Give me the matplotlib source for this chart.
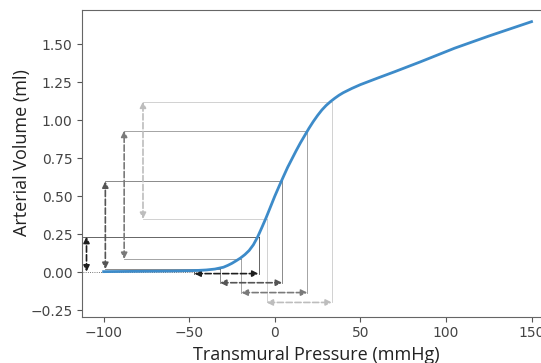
import matplotlib
matplotlib.use("Agg")
import matplotlib.pyplot as plt

# curve (pressure in mmHg, volume in ml)
pressure = [-100, -80, -60, -50, -45, -40, -35, -30, -27.5, -25, -22.5, -20, -17.5,
            -15, -12.5, -10, -7.5, -5, -2.5, 0, 2.5, 5, 7.5, 10, 12.5, 15, 17.5,
            20, 22.5, 25, 27.5, 30, 32.5, 35, 37.5, 40, 45, 50, 60, 70, 85, 105,
            125, 150]
volume = [0.003, 0.005, 0.007, 0.009, 0.011, 0.014, 0.020, 0.032, 0.044, 0.058,
          0.075, 0.093, 0.115, 0.142, 0.180, 0.232, 0.295, 0.360, 0.430, 0.500,
          0.565, 0.628, 0.690, 0.745, 0.800, 0.852, 0.900, 0.948, 0.992, 1.032,
          1.068, 1.098, 1.123, 1.145, 1.165, 1.182, 1.210, 1.235, 1.278, 1.320,
          1.385, 1.475, 1.555, 1.650]

# four pulse examples: low/high pressure, low/high volume
p_low = [-47, -32, -19.5, -4.8]
p_high = [-9.5, 4.3, 19, 33.4]
v_low = [0.003, 0.02, 0.086, 0.35]
v_high = [0.233, 0.598, 0.932, 1.124]
vol_arrow_x = [-110, -99, -88, -77]
pres_arrow_y = [-0.01, -0.07, -0.135, -0.20]
line_start = [-112, -99, -88, -77]
colores = ['#1e1e1e', '#555555', '#7a7a7a', '#bdbdbd']

fig = plt.figure(figsize=(5.41, 3.63), dpi=100)
ax = fig.add_axes([0.152, 0.1275, 0.870, 0.845])

for i in range(4):
    c = colores[i]
    # guide lines from the volume arrow to the curve and down to the pressure arrow
    ax.plot([line_start[i], p_high[i]], [v_high[i], v_high[i]], color=c, lw=0.6, alpha=0.8)
    ax.plot([line_start[i], p_low[i]], [v_low[i], v_low[i]], color=c, lw=0.6, alpha=0.8,
            ls=':' if i == 0 else '-')
    ax.plot([p_high[i], p_high[i]], [v_high[i], pres_arrow_y[i]], color=c, lw=0.6, alpha=0.8)
    ax.plot([p_low[i], p_low[i]], [v_low[i], pres_arrow_y[i]], color=c, lw=0.6, alpha=0.8)
    # volume arrow
    ax.annotate('', xy=(vol_arrow_x[i], v_high[i]), xytext=(vol_arrow_x[i], v_low[i]),
                arrowprops=dict(arrowstyle='<|-|>', color=c, lw=1.2, ls='--',
                                mutation_scale=9, shrinkA=0, shrinkB=0))
    # pressure arrow
    ax.annotate('', xy=(p_high[i], pres_arrow_y[i]), xytext=(p_low[i], pres_arrow_y[i]),
                arrowprops=dict(arrowstyle='<|-|>', color=c, lw=1.2, ls='--',
                                mutation_scale=9, shrinkA=0, shrinkB=0))

ax.plot(pressure, volume, color='#3d8bc9', lw=2, zorder=5)

ax.set_xlim(-112.5, 162.5)
ax.set_ylim(-0.294, 1.727)
ax.set_xticks([-100, -50, 0, 50, 100, 150])
ax.set_yticks([-0.25, 0, 0.25, 0.5, 0.75, 1.0, 1.25, 1.5])
ax.tick_params(colors='#555555', labelcolor='#444444', labelsize=10)
for s in ax.spines.values():
    s.set_color('#666666')

fig.text(0.585, 0.008, 'Transmural Pressure (mmHg)', ha='center', va='baseline',
         fontsize=13, family='Open Sans', color='#222222')
fig.text(0.040, 0.58, 'Arterial Volume (ml)', ha='center', va='center', rotation=90,
         fontsize=13, family='Open Sans', color='#222222')

fig.savefig('out.png', dpi=100)
